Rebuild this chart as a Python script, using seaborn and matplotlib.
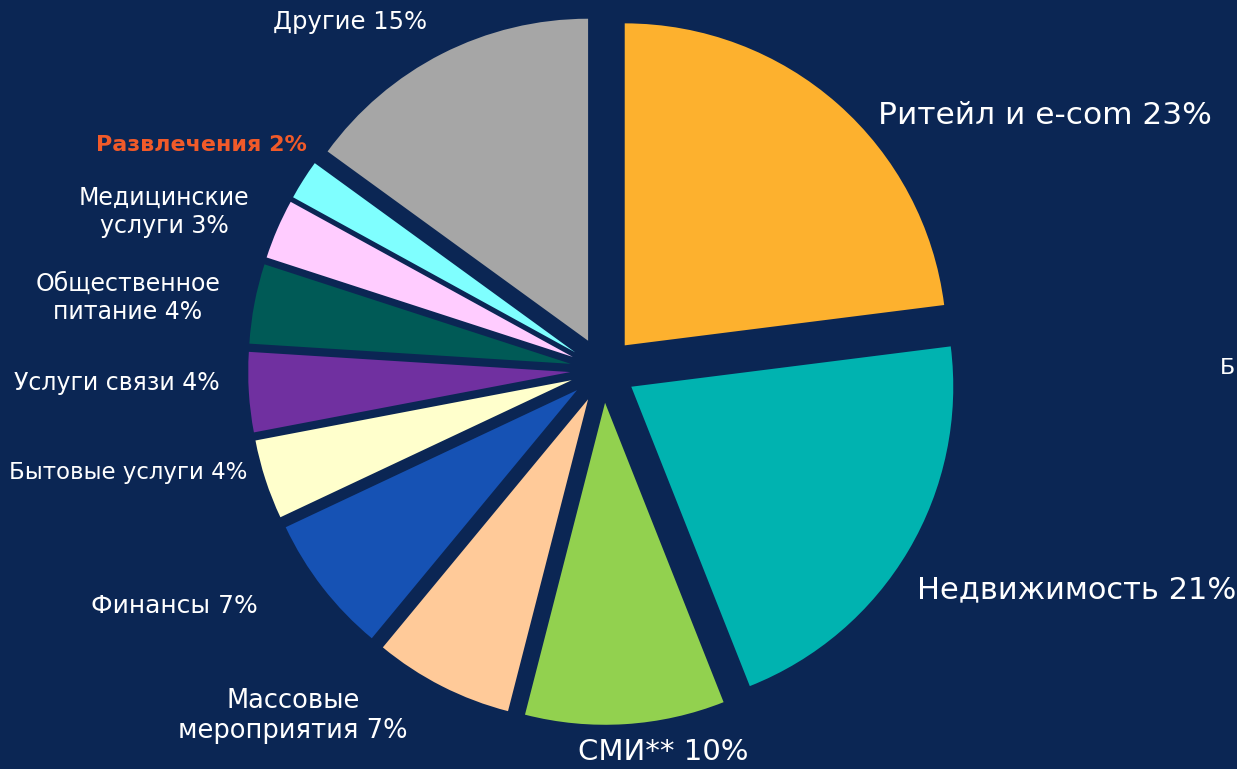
import numpy as np
import seaborn as sns
import matplotlib.pyplot as plt

# shares, clockwise from 12 o'clock
categories = ["Ритейл и e-com", "Недвижимость", "СМИ**", "Массовые\nмероприятия",
              "Финансы", "Бытовые услуги", "Услуги связи", "Общественное\nпитание",
              "Медицинские\nуслуги", "Развлечения", "Другие"]
shares = [23, 21, 10, 7, 7, 4, 4, 4, 3, 2, 15]
colors = ["#FDB12E", "#00B3B0", "#92D14F", "#FFCA99", "#1652B4", "#FFFFCC",
          "#7030A0", "#005A56", "#FFCCFF", "#7FFFFF", "#A6A6A6"]

# label placement (pixel coords, y from top), alignment, size
label_pos = [(878, 115, "left", 22.5), (917, 590, "left", 22), (578, 752, "left", 21),
             (293, 716, "center", 18.5), (258, 606, "right", 18), (247, 473, "right", 16.5),
             (220, 383, "right", 17), (128, 298, "center", 17), (164, 212, "center", 17),
             (307, 145, "right", 16), (350, 22, "center", 17.5)]

BG = "#0B2654"
W, H = 1237, 769
R = 322


def main():
    sns.set_style("white")
    plt.rcParams['font.family'] = ['DejaVu Sans']

    fig = plt.figure(figsize=(W / 100, H / 100), dpi=100, facecolor=BG)
    ax = fig.add_axes([0, 0, 1, 1])
    ax.set_facecolor(BG)

    # explode offset is in data units here, ~10% of radius
    ax.pie(shares, colors=colors, startangle=90, counterclock=False,
           explode=[0.102 * R] * len(shares), radius=R, center=(603, H - 370),
           wedgeprops=dict(linewidth=0), frame=True)
    ax.set_xlim(0, W)
    ax.set_ylim(0, H)
    ax.set_aspect("equal")
    ax.axis("off")

    for cat, val, (x, y, ha, fs) in zip(categories, shares, label_pos):
        txt = f"{cat} {val}%"
        if cat == "Развлечения":
            ax.text(x, H - y, txt, ha=ha, va="center", fontsize=fs,
                    color="#F15A29", fontweight="bold")
        else:
            ax.text(x, H - y, txt, ha=ha, va="center", fontsize=fs,
                    color="white", multialignment="center", linespacing=1.2)

    # cut-off label at the right edge
    ax.text(1220, H - 368, "Б", ha="left", va="center", fontsize=16, color="white")

    fig.savefig("out.png", dpi=100, facecolor=BG)


if __name__ == "__main__":
    main()
